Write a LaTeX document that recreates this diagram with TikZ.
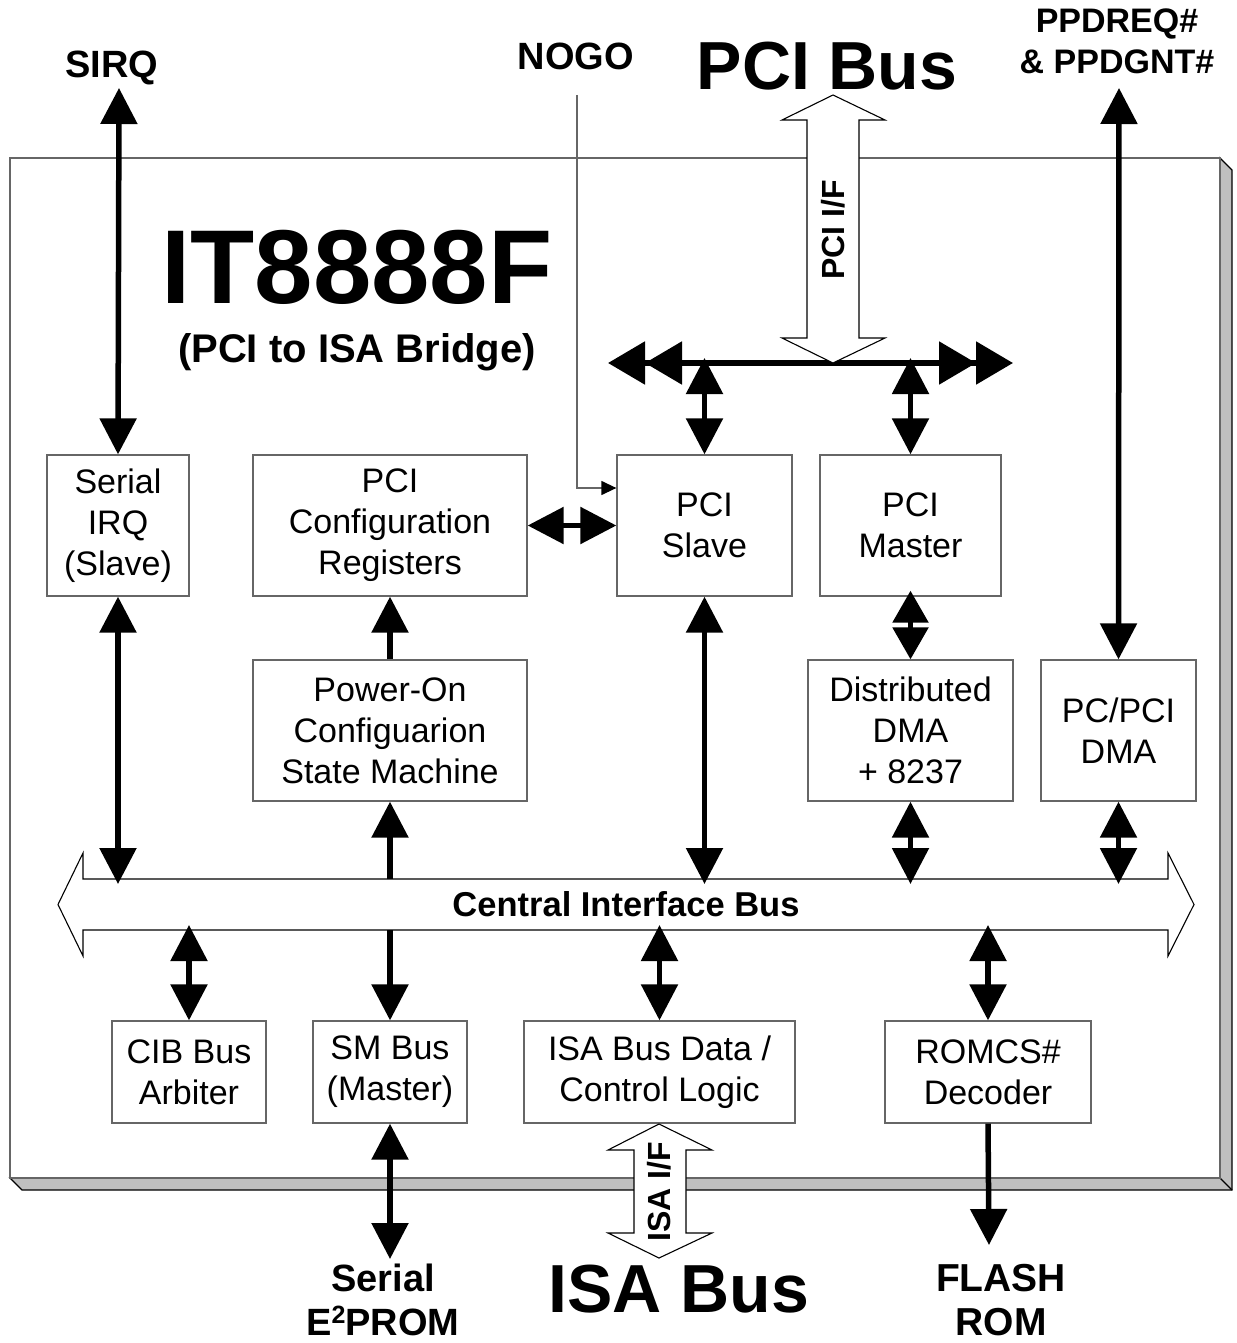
\documentclass[tikz,border=0pt]{standalone}
\usepackage{fontspec}
\setmainfont{Liberation Sans}
\usetikzlibrary{arrows.meta}
\begin{document}
\begin{tikzpicture}[x=1pt,y=-1pt,
  tri/.tip={Triangle[width=36pt,length=36pt]},
  stri/.tip={Triangle[width=35pt,length=32pt]},
  dtri/.tip={Triangle[width=42pt,length=37pt] Triangle[width=42pt,length=37pt]},
  blk/.style={draw=black!60, line width=1.3pt, fill=white, align=center, inner sep=0pt,
              font=\fontsize{34}{41}\selectfont},
  bidir/.style={line width=5.5pt, tri-tri},
  uni/.style={line width=5.5pt, -tri},
  hollow/.style={draw=black, line width=1.1pt, fill=white},
  lbl/.style={align=center, inner sep=0pt, font=\bfseries\fontsize{#1}{#1}\selectfont},
  thinln/.style={draw=black!60, line width=1.3pt}
]
\useasboundingbox (0,0) rectangle (1236,1343);

% chip outline with 3-D shadow
\filldraw[fill=black!25, draw=black, line width=1.1pt]
  (1220,158) -- (1232,170) -- (1232,1190) -- (22,1190) -- (10,1178) -- (1220,1178) -- cycle;
\draw[black, line width=1.1pt] (1220,1178) -- (1232,1190);
\draw[thinln, fill=white] (10,158) rectangle (1220,1178);

% titles
\node[lbl=105] (title) at (357,267) {IT8888F};
\node[lbl=40] (subtitle) at (357,352) {(PCI to ISA Bridge)};

% outside labels
\node[lbl=38] (sirq) at (112,68) {SIRQ};
\node[lbl=38] (nogo) at (576,56) {NOGO};
\node[lbl=68] (pcibus) at (827,66) {PCI Bus};
\node[align=center, inner sep=0pt, font=\bfseries\fontsize{34}{41}\selectfont] (ppd) at (1117,41) {PPDREQ\#\\\& PPDGNT\#};
\node[align=center, inner sep=0pt, font=\bfseries\fontsize{38}{44}\selectfont] (eeprom) at (383,1300)
  {Serial\\E\raisebox{12pt}{\fontsize{25}{25}\selectfont 2}PROM};
\node[lbl=68] (isabus) at (679,1289) {ISA Bus};
\node[align=center, inner sep=0pt, font=\bfseries\fontsize{39}{44}\selectfont] (flash) at (1001,1300) {FLASH\\ROM};

% free ends
\coordinate (sirqT) at (119,88);
\coordinate (ppdT) at (1119,88);
\coordinate (nogoS) at (577,95);
\coordinate (eepT) at (390,1259);
\coordinate (flashT) at (989,1245);
\coordinate (pL) at (608,363);
\coordinate (pR) at (1013,363);
\coordinate (pTip) at (0,358);
\coordinate (cibTop) at (0,884);
\coordinate (cibBot) at (0,925);
\coordinate (cibTopE) at (0,879);
\coordinate (cibBotE) at (0,930);

% blocks
\node[blk, minimum width=142pt, minimum height=141pt] (sirqb) at (118,525.5) {Serial\\IRQ\\(Slave)};
\node[blk, minimum width=274pt, minimum height=141pt] (cfg) at (390,525.5) {PCI\\Configuration\\Registers};
\node[blk, minimum width=175pt, minimum height=141pt] (slave) at (704.5,525.5) {PCI\\Slave};
\node[blk, minimum width=181pt, minimum height=141pt] (master) at (910.5,525.5) {PCI\\Master};
\node[blk, minimum width=274pt, minimum height=141pt] (pwr) at (390,730.5) {Power-On\\Configuarion\\State Machine};
\node[blk, minimum width=205pt, minimum height=141pt] (ddma) at (910.5,730.5) {Distributed\\DMA\\+ 8237};
\node[blk, minimum width=155pt, minimum height=141pt] (pcdma) at (1118.5,730.5) {PC/PCI\\DMA};
\node[blk, minimum width=154pt, minimum height=102pt] (arb) at (189,1072) {CIB Bus\\Arbiter};
\node[blk, minimum width=154pt, minimum height=102pt] (smb) at (390,1072) {SM Bus\\(Master)};
\node[blk, minimum width=271pt, minimum height=102pt] (isa) at (659.5,1072) {ISA Bus Data /\\Control Logic};
\node[blk, minimum width=206pt, minimum height=102pt] (rom) at (988,1072) {ROMCS\#\\Decoder};

% NOGO signal
\draw[thinln, -{Triangle[width=14pt,length=15pt,color=black]}] (nogoS) |- (slave.west |- 0,488);

% central interface bus
\draw[hollow] (58,904.5) -- (83,853) -- (83,879) -- (1168,879) -- (1168,853) -- (1194,904.5)
  -- (1168,956) -- (1168,930) -- (83,930) -- (83,956) -- cycle;
\node[lbl=34.5] (cib) at (626,904) {Central Interface Bus};

% internal PCI bus
\draw[line width=5.5pt, dtri-dtri] (pL) -- (pR);
\draw[bidir] (slave.north |- pTip) -- (slave.north);
\draw[bidir] (master.north |- pTip) -- (master.north);

% PCI bus interface
\draw[hollow] (833,95) -- (885,120) -- (859,120) -- (859,338) -- (885,338) -- (833,363)
  -- (782,338) -- (807,338) -- (807,120) -- (782,120) -- cycle;
\node[lbl=32, rotate=90] (pciif) at (833,230) {PCI I/F};

% connectors
\draw[bidir] (sirqT) -- (sirqb.north);
\draw[bidir] (sirqb.south) -- (sirqb.south |- cibTop);
\draw[bidir] (cfg.east) -- (slave.west);
\draw[uni] (pwr.north) -- (cfg.south);
\draw[uni] (pwr.south |- cibTopE) -- (pwr.south);
\draw[uni] (smb.north |- cibBotE) -- (smb.north);
\draw[bidir] (slave.south) -- (slave.south |- cibTop);
\draw[line width=5.5pt, stri-stri] ([yshift=6pt]master.south) -- (ddma.north);
\draw[bidir] (ddma.south) -- (ddma.south |- cibTop);
\draw[bidir] (ppdT) -- (pcdma.north);
\draw[bidir] (pcdma.south) -- (pcdma.south |- cibTop);
\draw[bidir] (arb.north |- cibBot) -- (arb.north);
\draw[bidir] (isa.north |- cibBot) -- (isa.north);
\draw[bidir] (rom.north |- cibBot) -- (rom.north);
\draw[bidir] (smb.south) -- (eepT);
\draw[uni] (rom.south) -- (flashT);

% ISA bus interface
\draw[hollow] (659,1124) -- (712,1150) -- (686,1150) -- (686,1233) -- (712,1233) -- (659,1258)
  -- (608,1233) -- (634,1233) -- (634,1150) -- (608,1150) -- cycle;
\node[lbl=32, rotate=90] (isaif) at (659,1192) {ISA I/F};
\end{tikzpicture}
\end{document}
